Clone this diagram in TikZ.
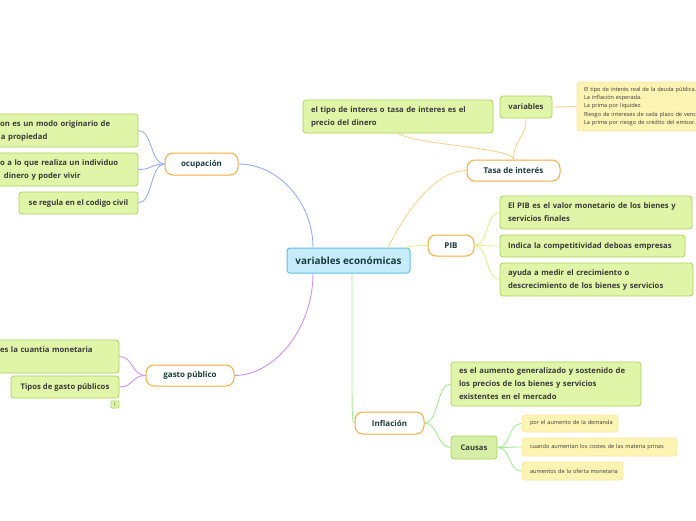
\documentclass[tikz,border=0pt]{standalone}
\usepackage{fontspec}
\setmainfont{Open Sans}
\definecolor{cfill}{HTML}{C6EBFB}
\definecolor{cdraw}{HTML}{62BEE9}
\definecolor{topdraw}{HTML}{F7AC3C}
\definecolor{topt}{HTML}{1B3C3A}
\definecolor{gfill}{HTML}{E0F5A8}
\definecolor{gdraw}{HTML}{A9D35C}
\definecolor{g2fill}{HTML}{D6EFA6}
\definecolor{yfill}{HTML}{FDF3B3}
\definecolor{ydraw}{HTML}{FBE6A0}
\definecolor{txt}{HTML}{3A3A3A}
\definecolor{lblue}{HTML}{93AFF6}
\definecolor{lpurp}{HTML}{CF90F4}
\definecolor{lorange}{HTML}{FDD28D}
\definecolor{lyg}{HTML}{E4EF8C}
\definecolor{lgreen}{HTML}{A2EE8E}
\tikzset{
  central/.style={draw=cdraw, fill=cfill, line width=1pt, rounded corners=3pt, text=topt,
    font=\fontsize{9.9}{12}\selectfont\bfseries, inner sep=0pt},
  topic/.style={draw=topdraw, fill=white, line width=1pt, rounded corners=8pt, text=topt,
    font=\fontsize{8}{9}\selectfont\bfseries, inner sep=0pt},
  child/.style={draw=gdraw, fill=gfill, line width=0.8pt, rounded corners=3pt, text=txt,
    font=\fontsize{7.7}{13}\selectfont\bfseries, align=left, inner xsep=8pt, inner ysep=0pt},
  ynote/.style={draw=ydraw, fill=yfill, line width=0.8pt, rounded corners=3pt, text=txt,
    font=\fontsize{5.6}{8.4}\selectfont, align=left, inner xsep=7pt, inner ysep=0pt},
  conn/.style={line width=0.9pt}
}
\begin{document}
\begin{tikzpicture}[x=1pt,y=-1pt]
\useasboundingbox (0,0) rectangle (696,520);
\clip (0,0) rectangle (696,520);

% central
\node[central, minimum width=123, minimum height=25] (c) at (348.5,260.5) {variables económicas};

% topics
\node[topic, minimum width=73, minimum height=22] (ocup) at (201.5,164) {ocupación};
\node[topic, minimum width=88, minimum height=21] (gasto) at (190,375.5) {gasto público};
\node[topic, minimum width=93, minimum height=21] (tasa) at (513.5,170.5) {Tasa de interés};
\node[topic, minimum width=46, minimum height=21] (pib) at (451,245.5) {PIB};
\node[topic, minimum width=69, minimum height=22] (infl) at (389.5,423) {Inflación};

% ocupacion children
\node[child, text width=130, minimum height=33] (oc1) at (65,130.5) {on es un modo originario de\\\hspace*{1pt}a propiedad};
\node[child, text width=130, minimum height=33] (oc2) at (65,169.5) {o a lo que realiza un individuo\\\hspace*{4pt}dinero y poder vivir};
\node[child, inner xsep=7pt, minimum width=119, minimum height=22] (oc3) at (78.5,203) {se regula en el codigo civil};

% gasto children
\node[child, text width=111, minimum height=33] (g1) at (55.5,356.5) {es la cuantia monetaria\\\mbox{}};
\node[child, inner xsep=7pt, minimum width=108, minimum height=22] (g2) at (65,387) {Tipos de gasto públicos};
\node[draw=gdraw, fill=gfill, line width=0.6pt, rounded corners=1pt, minimum width=8, minimum height=7, inner sep=0pt, text=txt, font=\fontsize{4.5}{5}\selectfont] (badge) at (115,404.5) {1};

% tasa children
\node[child, text width=174, minimum height=33] (t1) at (398,116.5) {el tipo de interes o tasa de interes es el\\precio del dinero};
\node[child, inner xsep=6pt, minimum width=52, minimum height=22] (var) at (526,107) {variables};
\node[ynote, text width=160, minimum height=49] (note) at (664,106.5) {El tipo de interés real de la deuda pública.\\La inflación esperada.\\La prima por liquidez.\\Riesgo de intereses de cada plazo de venc\\La prima por riesgo de crédito del emisor.};

% pib children
\node[child, text width=176, minimum height=33] (p1) at (596,212.5) {El PIB es el valor monetario de los bienes y\\servicios finales};
\node[child, text width=169, minimum height=22] (p2) at (592.5,246) {\mbox{Indica la competitividad deboas empresas}};
\node[child, text width=177, minimum height=33] (p3) at (596.5,279.5) {ayuda a medir el crecimiento o\\descrecimiento de los bienes y servicios};

% inflacion children
\node[child, text width=174, minimum height=44] (i1) at (546,384) {es el aumento generalizado y sostenido de\\los precios de los bienes y servicios\\existentes en el mercado};
\node[child, fill=g2fill, minimum width=46, minimum height=23, inner xsep=4pt] (causas) at (474,447.5) {Causas};
\node[ynote, inner xsep=8pt, text width=80, minimum height=17] (c1) at (570,423.5) {\mbox{por el aumento de la demanda}};
\node[ynote, inner xsep=8pt, text width=139, minimum height=18] (c2) at (599.5,447) {\mbox{cuando aumentan los costes de las materia prinas}};
\node[ynote, inner xsep=8pt, text width=85, minimum height=18] (c3) at (572.5,471) {\mbox{aumentos de la oferta monetaria}};

% connectors from central
\draw[conn, lblue] ([xshift=-35.5pt]c.north) .. controls +(0,-45) and +(40,0) .. (ocup.east);
\draw[conn, lpurp] ([xshift=-35.5pt]c.south) .. controls +(0,55) and +(40,0) .. (gasto.east);
\draw[conn, lorange] ([xshift=39.5pt]c.north) .. controls +(20,-40) and +(-30,0) .. (tasa.west);
\draw[conn, lyg] ([xshift=-6pt]c.north east) .. controls +(8,-2) and +(-8,0) .. (pib.west);
\draw[conn, lgreen] ([xshift=3.5pt]c.south) .. controls +(0,145) and +(-3,0) .. (infl.west);

% ocupacion
\foreach \n in {oc1,oc2,oc3}
  \draw[conn, lblue] (ocup.west) .. controls +(-14,0) and +(14,0) .. (\n.east);
\foreach \n in {g1,g2}
  \draw[conn, lpurp] (gasto.west) .. controls +(-14,0) and +(14,0) .. (\n.east);

% tasa
\draw[conn, lorange] (tasa.north) .. controls +(0,-20) and +(0,20) .. (var.south);
\draw[conn, lorange] (tasa.north) .. controls +(0,-12) and +(20,12) .. (t1.south);
\draw[conn, lorange] (var.east) -- (note.west);

% pib
\foreach \n in {p1,p2,p3}
  \draw[conn, lyg] (pib.east) .. controls +(14,0) and +(-14,0) .. (\n.west);

% inflacion
\foreach \n in {i1,causas}
  \draw[conn, lgreen] (infl.east) .. controls +(14,0) and +(-14,0) .. (\n.west);
\foreach \n in {c1,c2,c3}
  \draw[conn, lgreen] (causas.east) .. controls +(14,0) and +(-14,0) .. (\n.west);

\end{tikzpicture}
\end{document}
